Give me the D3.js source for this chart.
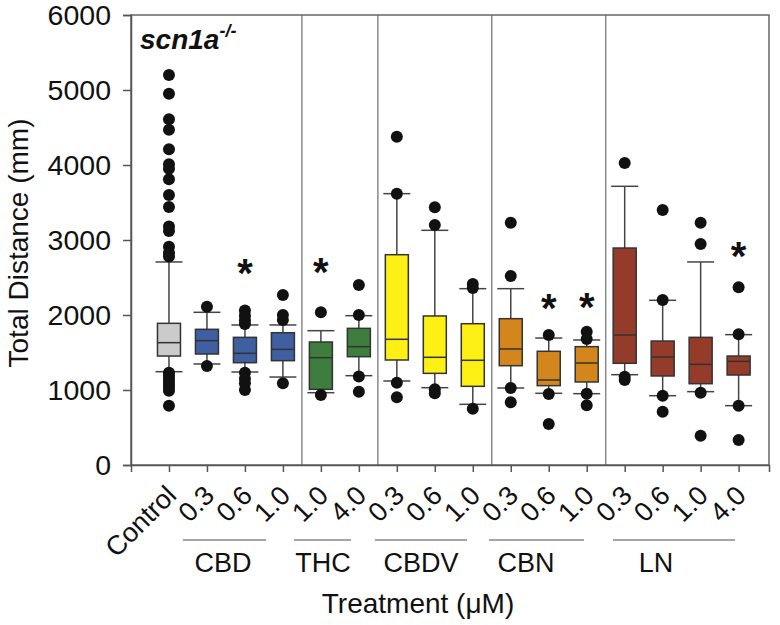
<!DOCTYPE html>
<html><head><meta charset="utf-8">
<script src="https://cdn.jsdelivr.net/npm/d3@7"></script>
<style>body{margin:0;background:#fff;} svg{display:block;} text{font-family:"Liberation Sans",Arial,sans-serif;fill:#111;}</style>
</head><body>
<svg id="chart" width="780" height="625"></svg>
<script>
// ---- data ----
const categories = ["Control","0.3","0.6","1.0","1.0","4.0","0.3","0.6","1.0","0.3","0.6","1.0","0.3","0.6","1.0","4.0"];
const groupOf    = ["Control","CBD","CBD","CBD","THC","THC","CBDV","CBDV","CBDV","CBN","CBN","CBN","LN","LN","LN","LN"];
const whiskerLow  = [1244,1347,1240,1173, 964,1191,1120,1031, 809,1027, 956, 951,1204, 924, 978, 791];
const q1          = [1453,1480,1364,1391,1009,1444,1400,1222,1049,1324,1058,1107,1356,1187,1084,1200];
const median      = [1631,1658,1489,1542,1431,1578,1676,1436,1396,1547,1133,1360,1733,1440,1342,1382];
const q3          = [1889,1809,1702,1764,1640,1822,2804,1987,1884,1951,1516,1578,2893,1653,1702,1453];
const whiskerHigh = [2707,2036,1867,1867,1791,1991,3618,3129,2351,2351,1693,1667,3716,2196,2707,1738];
const outliers = [
  [5200,4950,4610,4470,4210,4010,3950,3810,3600,3440,3180,3120,2910,2830,2780,1230,1190,1150,1110,1070,1030,990,790],
  [2110,1320],
  [2060,1990,1930,1880,1230,1150,1090,1000],
  [2267,2000,1933,1090],
  [2036,933],
  [2400,2000,1180,978],
  [4378,3618,1098,902],
  [3436,3200,1009,956],
  [2413,2360,751],
  [3231,2520,1027,836],
  [1733,947,547],
  [1778,1680,951,796],
  [4027,1178,1133],
  [3400,2200,924,711],
  [3231,2947,964,391],
  [2369,1742,791,333]
];
const significant = [false,false,true,false,true,false,false,false,false,false,true,true,false,false,false,true];
const sigLevel    = [0,0,2680,0,2690,0,0,0,0,0,2210,2230,0,0,0,2910];
const groups      = ["CBD","THC","CBDV","CBN","LN"];
const groupColors = {Control:"#cbcbcb", CBD:"#3f5fa1", THC:"#3e7d3d", CBDV:"#fcf014", CBN:"#d2861c", LN:"#953b2a"};
const yTicks = [0,1000,2000,3000,4000,5000,6000];
// layout of group underline/labels (pixel layout, not data)
const groupLines  = [[183,266],[294,351],[375,467],[489,584],[613,735]];
const groupLabelX = [223,323,421,526,656];

// ---- chart ----
const svg = d3.select("#chart");
const L = 131, R = 769, T = 15, B = 465;
const x = d3.scaleLinear().domain([0, 16.8]).range([L, R]);
const y = d3.scaleLinear().domain([0, 6000]).range([B, T]);
const boxW = 23, capW = 27;
const idx = d3.range(categories.length);
const xc = i => x(i + 1);

// group separators (between different groups, except Control)
for (let i = 1; i < categories.length - 1; i++) {
  if (groupOf[i] !== groupOf[i+1]) {
    svg.append("line").attr("x1", x(i + 1.5)).attr("x2", x(i + 1.5))
      .attr("y1", T).attr("y2", B).attr("stroke", "#8a8a8a").attr("stroke-width", 1.5);
  }
}

// frame
svg.append("rect").attr("x", L).attr("y", T).attr("width", R - L).attr("height", B - T)
  .attr("fill", "none").attr("stroke", "#666").attr("stroke-width", 1.5);

// y axis
const yAxis = d3.axisLeft(y).tickValues(yTicks).tickSize(8).tickPadding(12).tickFormat(d3.format("d"));
const gy = svg.append("g").attr("transform", `translate(${L},0)`).call(yAxis);
gy.select(".domain").attr("stroke", "#555").attr("stroke-width", 1.5);
gy.selectAll(".tick line").attr("stroke", "#555").attr("stroke-width", 1.5);
gy.selectAll(".tick text").attr("font-size", 28.5).attr("font-family", "Liberation Sans, Arial, sans-serif").attr("fill", "#111");

// x axis ticks
const xAxis = d3.axisBottom(x).tickValues(idx.map(i => i + 1)).tickSize(7).tickFormat("");
const gx = svg.append("g").attr("transform", `translate(0,${B})`).call(xAxis);
gx.select(".domain").attr("stroke", "#555").attr("stroke-width", 1.5);
gx.selectAll(".tick line").attr("stroke", "#555").attr("stroke-width", 1.5);

// x tick labels rotated
svg.append("g").selectAll("text").data(idx).join("text")
  .attr("transform", i => `translate(${xc(i) + 9},497) rotate(-45)`)
  .attr("text-anchor", "end").attr("font-size", 27).text(i => categories[i]);

// boxes
const g = svg.append("g");
idx.forEach(i => {
  const cx = xc(i);
  const col = groupColors[groupOf[i]];
  g.append("line").attr("x1", cx).attr("x2", cx).attr("y1", y(q3[i])).attr("y2", y(whiskerHigh[i])).attr("stroke", "#444").attr("stroke-width", 1.5);
  g.append("line").attr("x1", cx).attr("x2", cx).attr("y1", y(q1[i])).attr("y2", y(whiskerLow[i])).attr("stroke", "#444").attr("stroke-width", 1.5);
  [whiskerHigh[i], whiskerLow[i]].forEach(v => {
    g.append("line").attr("x1", cx - capW/2).attr("x2", cx + capW/2).attr("y1", y(v)).attr("y2", y(v)).attr("stroke", "#444").attr("stroke-width", 1.5);
  });
  g.append("rect").attr("x", cx - boxW/2).attr("y", y(q3[i])).attr("width", boxW).attr("height", y(q1[i]) - y(q3[i]))
    .attr("fill", col).attr("stroke", "#333").attr("stroke-width", 1.5);
  g.append("line").attr("x1", cx - boxW/2).attr("x2", cx + boxW/2).attr("y1", y(median[i])).attr("y2", y(median[i])).attr("stroke", "#333").attr("stroke-width", 1.5);
  g.selectAll(null).data(outliers[i]).join("circle").attr("cx", cx).attr("cy", v => y(v)).attr("r", 6).attr("fill", "#111");
  if (significant[i]) {
    g.append("text").attr("x", cx).attr("y", y(sigLevel[i]) + 23).attr("text-anchor", "middle")
      .attr("font-size", 40).attr("font-weight", "bold").text("*");
  }
});

// title
const title = svg.append("text").attr("x", 140).attr("y", 49).attr("font-size", 28).attr("font-weight", "bold").attr("font-style", "italic");
title.append("tspan").text("scn1a");
title.append("tspan").attr("font-size", 18).attr("dy", -12).text("-/-");

// group lines and labels
groups.forEach((gname, k) => {
  svg.append("line").attr("x1", groupLines[k][0]).attr("x2", groupLines[k][1]).attr("y1", 540).attr("y2", 540)
    .attr("stroke", "#888").attr("stroke-width", 1.5);
  svg.append("text").attr("x", groupLabelX[k]).attr("y", 572).attr("text-anchor", "middle").attr("font-size", 27).text(gname);
});

// axis titles
svg.append("text").attr("x", 418).attr("y", 613).attr("text-anchor", "middle").attr("font-size", 28).text("Treatment (\u03bcM)");
svg.append("text").attr("transform", "translate(28,243) rotate(-90)").attr("text-anchor", "middle").attr("font-size", 28).text("Total Distance (mm)");
</script>
</body></html>
